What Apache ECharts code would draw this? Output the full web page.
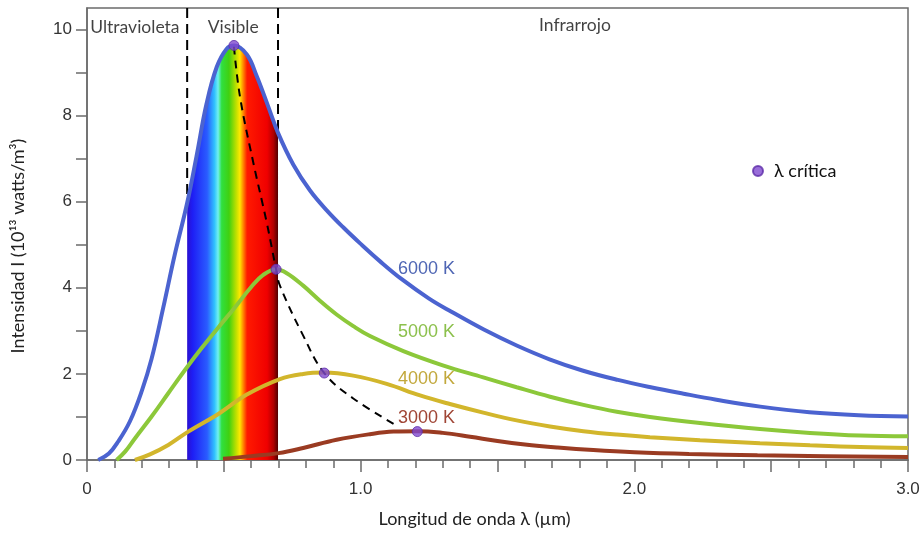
<!DOCTYPE html>
<html>
<head>
<meta charset="utf-8">
<script src="https://cdn.jsdelivr.net/npm/echarts@6/dist/echarts.min.js"></script>
<style>
  html, body { margin: 0; padding: 0; background: #fff; }
  #chart { width: 923px; height: 533px; }
</style>
</head>
<body>
<div id="chart"></div>
<script>
// curvas: [λ (µm), I (10^13 W/m^3)]
const curve6000 = [[0.041, 0], [0.08, 0.15], [0.114, 0.43], [0.157, 0.9], [0.2, 1.6], [0.236, 2.35],
  [0.279, 3.55], [0.32, 4.75], [0.366, 5.97], [0.40, 7.05], [0.437, 8.28], [0.474, 9.13], [0.51, 9.55],
  [0.537, 9.63], [0.584, 9.42], [0.62, 8.92], [0.66, 8.25], [0.698, 7.6], [0.754, 6.86], [0.815, 6.26],
  [0.876, 5.8], [0.937, 5.4], [1.0, 5.02], [1.07, 4.62], [1.15, 4.2], [1.25, 3.75], [1.33, 3.45],
  [1.45, 3.03], [1.57, 2.66], [1.69, 2.34], [1.81, 2.08], [1.94, 1.86], [2.06, 1.69], [2.18, 1.54],
  [2.3, 1.40], [2.46, 1.24], [2.64, 1.11], [2.82, 1.04], [3.0, 1.01]]
const curve5000 = [[0.108, 0], [0.14, 0.2], [0.175, 0.5], [0.236, 1.01], [0.297, 1.55], [0.358, 2.09],
  [0.419, 2.6], [0.48, 3.08], [0.541, 3.55], [0.6, 4.02], [0.644, 4.3], [0.691, 4.43], [0.73, 4.34],
  [0.79, 4.05], [0.851, 3.7], [0.912, 3.38], [0.973, 3.11], [1.034, 2.88], [1.156, 2.53], [1.30, 2.2],
  [1.448, 1.92], [1.57, 1.69], [1.692, 1.47], [1.814, 1.28], [1.936, 1.12], [2.057, 1.0], [2.24, 0.86],
  [2.459, 0.72], [2.642, 0.63], [2.825, 0.57], [3.0, 0.55]]
const curve4000 = [[0.175, 0], [0.23, 0.13], [0.297, 0.35], [0.37, 0.66], [0.48, 1.07], [0.584, 1.52],
  [0.705, 1.88], [0.79, 2.0], [0.867, 2.03], [0.973, 1.96], [1.095, 1.77], [1.217, 1.5], [1.326, 1.3],
  [1.448, 1.1], [1.57, 0.92], [1.692, 0.78], [1.814, 0.67], [1.936, 0.59], [2.057, 0.53], [2.24, 0.46],
  [2.459, 0.39], [2.642, 0.34], [2.825, 0.30], [3.0, 0.28]]
const curve3000 = [[0.497, 0.03], [0.6, 0.09], [0.7, 0.16], [0.79, 0.28], [0.912, 0.47], [1.034, 0.6],
  [1.12, 0.66], [1.21, 0.67], [1.3, 0.63], [1.4, 0.54], [1.5, 0.44], [1.6, 0.36], [1.72, 0.29],
  [1.85, 0.23], [2.0, 0.18], [2.2, 0.14], [2.45, 0.11], [2.7, 0.09], [3.0, 0.07]]

// λ crítica (picos) y curva de Wien
const peaks = [[0.537, 9.63], [0.691, 4.43], [0.867, 2.02], [1.207, 0.66]]
const wienLine = [[0.537, 9.6], [0.559, 8.44], [0.608, 6.9], [0.657, 5.51], [0.691, 4.43], [0.705, 4.05],
  [0.79, 2.89], [0.867, 2.02], [0.973, 1.43], [1.137, 0.78]]

const visibleRange = [0.366, 0.698]
const curveNames = ['6000 K', '5000 K', '4000 K', '3000 K']
const curveColors = ['#4b63d0', '#8cc83a', '#d2b62c', '#9a3b22']
const labelColors = ['#4f66b4', '#8cc04c', '#c2a83c', '#a04636']
const labelPos = [[1.136, 4.43], [1.136, 2.98], [1.136, 1.89], [1.136, 0.97]]
const regionNames = ['Ultravioleta', 'Visible', 'Infrarrojo']
const regionPos = [[0.175, 10.05], [0.534, 10.05], [1.783, 10.1]]
const xTickLabels = [0, 1, 2, 3]
const yTickMarks = [0, 1, 2, 3, 4, 5, 6, 7, 8, 9, 10]
const yTickLabels = [0, 2, 4, 6, 8, 10]

const axisColor = '#6b6b6b'
const chart = echarts.init(document.getElementById('chart'))

const spectrum = new echarts.graphic.LinearGradient(0, 0, 1, 0, [
  { offset: 0, color: '#2a10d0' },
  { offset: 0.06, color: '#1e1ef5' },
  { offset: 0.22, color: '#2a5cff' },
  { offset: 0.3, color: '#30c0ff' },
  { offset: 0.34, color: '#70f0f0' },
  { offset: 0.38, color: '#30e040' },
  { offset: 0.46, color: '#40d010' },
  { offset: 0.54, color: '#c0e000' },
  { offset: 0.58, color: '#ffe800' },
  { offset: 0.62, color: '#ff8000' },
  { offset: 0.66, color: '#ff1a00' },
  { offset: 0.88, color: '#f00000' },
  { offset: 0.95, color: '#b00000' },
  { offset: 1, color: '#500000' }
])

const curves = [curve6000, curve5000, curve4000, curve3000]
const series = []

// líneas discontinuas de la región visible (desde arriba hasta la curva de 6000 K)
visibleRange.forEach(v => {
  const top = curve6000.find(p => p[0] === v)
  series.push({
    type: 'line',
    data: [[v, 10.5], [v, top[1]]],
    showSymbol: false,
    z: 1,
    lineStyle: { color: '#000', width: 2, type: [10, 6] }
  })
})

series.push({
  type: 'line',
  data: curve6000.filter(p => p[0] >= visibleRange[0] && p[0] <= visibleRange[1]),
  smooth: 0.4,
  showSymbol: false,
  z: 2,
  lineStyle: { width: 0 },
  areaStyle: { color: spectrum, opacity: 1 }
})

curves.forEach((c, i) => {
  series.push({
    name: curveNames[i],
    type: 'line',
    data: c,
    smooth: 0.4,
    showSymbol: false,
    z: 3,
    lineStyle: { color: curveColors[i], width: 4 },
    markPoint: {
      symbol: 'circle',
      symbolSize: 0,
      data: [{
        coord: labelPos[i],
        label: {
          show: true,
          position: 'right',
          distance: 0,
          formatter: curveNames[i],
          color: labelColors[i],
          fontSize: 18,
          fontFamily: 'Liberation Sans'
        }
      }]
    }
  })
})

series.push({
  type: 'line',
  data: wienLine,
  smooth: 0.4,
  showSymbol: false,
  z: 4,
  lineStyle: { color: '#000', width: 2, type: [8, 6] }
})

series.push({
  name: 'λ crítica',
  type: 'scatter',
  data: peaks,
  symbolSize: 10,
  z: 5,
  itemStyle: { color: '#8048d0', borderColor: '#5c2ca8', borderWidth: 1 }
})

series.push({
  type: 'scatter',
  data: regionPos.map((p, i) => ({ value: p, name: regionNames[i] })),
  symbolSize: 0,
  z: 5,
  label: {
    show: true,
    position: 'inside',
    formatter: p => p.name,
    color: '#111',
    fontSize: 17.5,
    fontFamily: 'Lato'
  }
})

const option = {
  animation: false,
  grid: { left: 87, right: 15, top: 8, bottom: 71, show: true, borderColor: axisColor, borderWidth: 1.5 },
  legend: {
    data: ['λ crítica'],
    left: 747,
    top: 157,
    itemWidth: 10,
    itemHeight: 10,
    textStyle: { fontSize: 18, fontFamily: 'Lato', color: '#111', padding: [0, 0, 0, 6] }
  },
  xAxis: {
    type: 'value',
    min: 0,
    max: 3,
    interval: 0.5,
    name: 'Longitud de onda λ (µm)',
    nameLocation: 'middle',
    nameGap: 50,
    nameTextStyle: { fontFamily: 'Lato', fontSize: 18, color: '#222', padding: [0, 46, 0, 0] },
    axisLine: { lineStyle: { color: axisColor, width: 1.5 } },
    axisTick: { show: true, length: 12, lineStyle: { color: axisColor, width: 1.5 } },
    minorTick: { show: true, splitNumber: 5, length: 8, lineStyle: { color: axisColor, width: 1.5 } },
    splitLine: { show: false },
    axisLabel: {
      customValues: xTickLabels,
      formatter: v => v === 0 ? '0' : v.toFixed(1),
      margin: 21,
      fontSize: 17,
      color: '#333',
      fontFamily: 'Liberation Sans'
    }
  },
  yAxis: {
    type: 'value',
    min: 0,
    max: 10.5,
    interval: 1,
    name: 'Intensidad I (10¹³ watts/m³)',
    nameLocation: 'middle',
    nameGap: 60,
    nameRotate: 90,
    nameTextStyle: { fontFamily: 'Lato', fontSize: 18, color: '#222', padding: [0, 24, 0, 0] },
    axisLine: { show: true, lineStyle: { color: axisColor, width: 1.5 } },
    axisTick: { show: true, customValues: yTickMarks, length: 11, lineStyle: { color: axisColor, width: 1.5 } },
    splitLine: { show: false },
    axisLabel: {
      customValues: yTickLabels,
      margin: 15,
      fontSize: 17,
      color: '#333',
      fontFamily: 'Liberation Sans'
    }
  },
  series: series
}

chart.setOption(option)
</script>
</body>
</html>
